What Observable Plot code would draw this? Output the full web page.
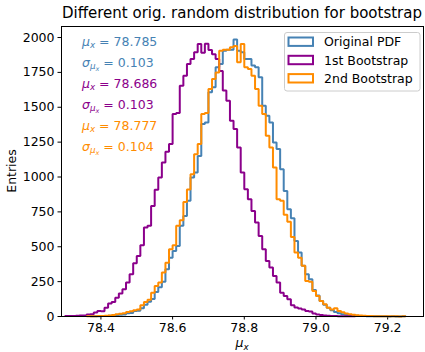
<!DOCTYPE html>
<html><head><meta charset="utf-8">
<script src="https://cdn.jsdelivr.net/npm/d3@7"></script>
<script src="https://cdn.jsdelivr.net/npm/@observablehq/plot@0.6"></script>
<style>
body{margin:0;background:#fff;}
svg{font-family:"DejaVu Sans",sans-serif;}
</style>
</head><body><div id="chart"></div>
<script>
// Histogram bins (width 0.01), each series with its own first bin edge
const binWidth = 0.01;
const originalPDFStart = 78.37;
const originalPDF = [1,1,2,3,4,6,6,9,13,14,23,25,39,42,59,85,105,125,175,210,250,339,422,470,506,650,721,829,997,1033,1150,1380,1391,1607,1643,1786,1810,1906,1913,1913,1985,1906,1894,1846,1846,1800,1786,1715,1511,1439,1391,1248,1200,1056,900,769,705,542,458,363,303,267,190,150,111,85,63,44,32,23,16,12,9,7,5,4,3,2,2,1,1,1,1,0,1,0,0,1];
const bootstrap1Start = 78.30;
const bootstrap1 = [3,3,4,6,8,8,14,16,28,40,38,63,94,104,135,164,195,243,303,382,434,511,638,650,793,908,997,1104,1181,1236,1451,1458,1655,1726,1810,1846,1894,1954,1890,1955,1910,1880,1846,1760,1620,1547,1403,1344,1212,1033,913,841,757,674,578,482,398,351,291,243,171,147,123,80,65,58,50,40,35,22,14,10,8,6,4,3,2,2,1,1,1];
const bootstrap2Start = 78.36;
const bootstrap2 = [1,1,2,3,4,6,8,10,16,20,23,33,38,45,50,80,104,120,171,219,243,315,386,482,510,650,690,820,910,1020,1164,1236,1451,1458,1631,1703,1750,1906,1913,1913,1930,1940,1822,1954,1786,1774,1726,1631,1511,1451,1296,1212,1068,841,829,730,680,570,458,422,363,255,250,183,147,111,87,63,50,60,40,30,22,16,12,9,7,5,4,3,2,2,1,1,1,1,1,0,1];

const seriesNames = ["Original PDF", "1st Bootstrap", "2nd Bootstrap"];
const seriesColors = ["#4682b4", "#8b008b", "#ff8c00"];
const meanLabels = ["78.785", "78.686", "78.777"];
const sigmaLabels = ["0.103", "0.103", "0.104"];
const xTicks = [78.4, 78.6, 78.8, 79.0, 79.2];
const yTicks = [0, 250, 500, 750, 1000, 1250, 1500, 1750, 2000];
const titleText = "Different orig. random distribution for bootstrap";
const yLabel = "Entries";

function outline(start, counts, name) {
  const pts = [{x: start, y: 0, s: name}];
  counts.forEach((c, i) => pts.push({x: start + i * binWidth, y: c, s: name}));
  pts.push({x: start + counts.length * binWidth, y: 0, s: name});
  return pts;
}
const series = [
  outline(originalPDFStart, originalPDF, seriesNames[0]),
  outline(bootstrap1Start, bootstrap1, seriesNames[1]),
  outline(bootstrap2Start, bootstrap2, seriesNames[2])
];

const W = 425, H = 352, mL = 61, mR = 2, mT = 26, mB = 36;
const plot = Plot.plot({
  width: W, height: H,
  marginLeft: mL, marginRight: mR, marginTop: mT, marginBottom: mB,
  style: {fontFamily: "DejaVu Sans", fontSize: "12.5px", color: "black", background: "white"},
  x: {domain: [78.29, 79.30]},
  y: {domain: [0, 2079]},
  marks: [
    Plot.axisX({ticks: xTicks, tickSize: 3.5, tickPadding: 3.5, tickFormat: d3.format(".1f"), label: null, fontSize: 12.5}),
    Plot.axisY({ticks: yTicks, tickSize: 3.5, tickPadding: 3.5, tickFormat: d => String(d), label: null, fontSize: 12.5}),
    ...series.map((s, i) => Plot.line(s, {x: "x", y: "y", curve: "step-after", stroke: seriesColors[i], strokeWidth: 2, strokeLinejoin: "miter", strokeLinecap: "butt"})),
    Plot.frame({stroke: "black", strokeWidth: 1})
  ]
});
document.getElementById("chart").appendChild(plot);

const svg = d3.select(plot);
const NS = 12.5;
// title
svg.append("text").attr("x", (mL + W - mR) / 2).attr("y", 17.5).attr("text-anchor", "middle")
  .attr("font-size", 15).attr("fill", "black").text(titleText);
// y label
svg.append("text").attr("transform", `translate(16,${(mT + H - mB) / 2}) rotate(-90)`)
  .attr("text-anchor", "middle").attr("font-size", NS).attr("fill", "black").text(yLabel);
// x label mu_x
const xl = svg.append("text").attr("x", (mL + W - mR) / 2).attr("y", 347).attr("text-anchor", "middle")
  .attr("font-size", NS).attr("fill", "black");
xl.append("tspan").attr("font-style", "italic").text("μ");
xl.append("tspan").attr("font-style", "italic").attr("font-size", 8.75).attr("dy", 3).text("x");

// annotations
const ax = 82, ay0 = 45.7, dyRow = 21;
for (let i = 0; i < 3; i++) {
  const c = seriesColors[i];
  const t1 = svg.append("text").attr("x", ax).attr("y", ay0 + dyRow * (2 * i)).attr("text-anchor", "start").attr("font-size", NS).attr("fill", c);
  t1.append("tspan").attr("font-style", "italic").text("μ");
  t1.append("tspan").attr("font-style", "italic").attr("font-size", 8.75).attr("dy", 2.5).text("x");
  t1.append("tspan").attr("dy", -2.5).text(" = " + meanLabels[i]);
  const t2 = svg.append("text").attr("x", ax).attr("y", ay0 + dyRow * (2 * i + 1)).attr("text-anchor", "start").attr("font-size", NS).attr("fill", c);
  t2.append("tspan").attr("font-style", "italic").text("σ");
  t2.append("tspan").attr("font-style", "italic").attr("font-size", 8.75).attr("dy", 2.5).text("μ");
  t2.append("tspan").attr("font-style", "italic").attr("font-size", 6.5).attr("dy", 2).text("x");
  t2.append("tspan").attr("dy", -4.5).text(" = " + sigmaLabels[i]);
}

// legend
const lg = svg.append("g");
lg.append("rect").attr("x", 284.5).attr("y", 32.5).attr("width", 135.5).attr("height", 58.5)
  .attr("rx", 2.5).attr("fill", "white").attr("fill-opacity", 0.8).attr("stroke", "#cccccc").attr("stroke-width", 1);
for (let i = 0; i < 3; i++) {
  const cy = 41.7 + i * 18.3;
  lg.append("rect").attr("x", 288.5).attr("y", cy - 4.2).attr("width", 24.5).attr("height", 8.4)
    .attr("fill", "none").attr("stroke", seriesColors[i]).attr("stroke-width", 2);
  lg.append("text").attr("x", 324).attr("y", cy + 4.5).attr("text-anchor", "start").attr("font-size", NS).attr("fill", "black").text(seriesNames[i]);
}
</script>
</body></html>
